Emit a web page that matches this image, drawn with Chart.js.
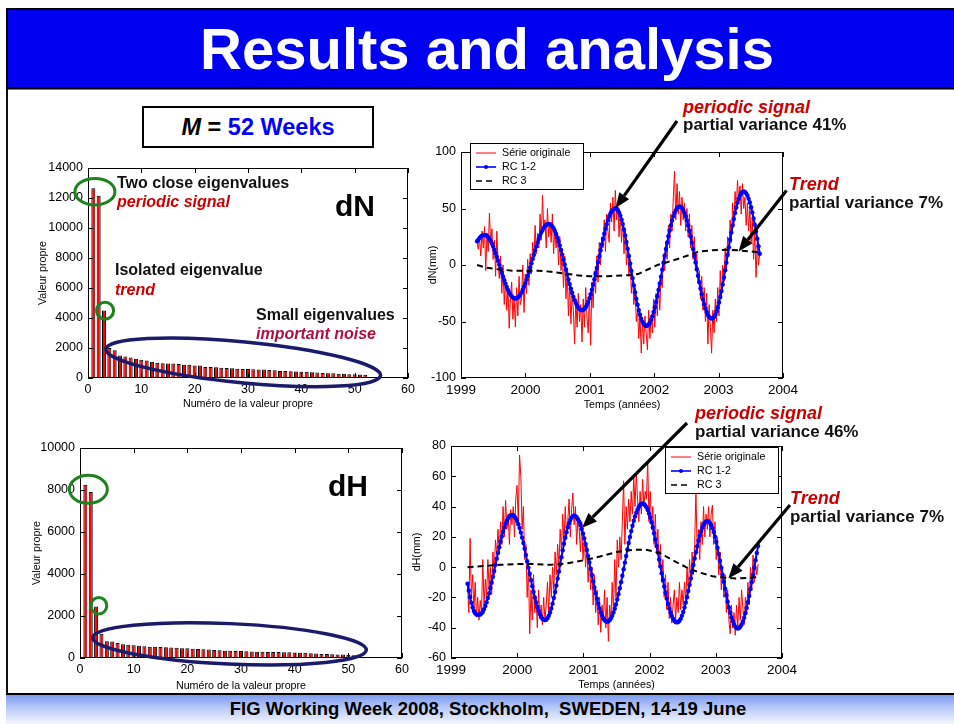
<!DOCTYPE html>
<html>
<head>
<meta charset="utf-8">
<script src="https://cdn.jsdelivr.net/npm/chart.js@4.4.0/dist/chart.umd.min.js"></script>
<style>
  html, body { margin: 0; padding: 0; }
  body { width: 954px; height: 724px; position: relative; overflow: hidden; background: #fff;
         font-family: "Liberation Sans", Arial, sans-serif; }
  .abs { position: absolute; white-space: nowrap; line-height: 1; }
  canvas { position: absolute; }
  #titlebar { left: 6px; top: 8px; width: 950px; height: 77px; background: #0000f0;
              border-top: 2px solid #000; border-bottom: 2px solid #000; border-left: 2px solid #000; }
  #title { left: 0; top: 20px; width: 974px; text-align: center; color: #fff; font-weight: bold; font-size: 58px; }
  #greyline { left: 8px; top: 89px; width: 950px; height: 1px; background: #777; }
  #leftline { left: 6px; top: 89px; width: 2px; height: 635px; background: #111; }
  #footer { left: 6px; top: 693px; width: 950px; height: 29px; border-top: 2px solid #000;
            background: linear-gradient(to bottom, #7d9bf0 0%, #b9caf7 45%, #f3f6fe 100%); }
  #foottext { left: 0; top: 700px; width: 976px; text-align: center; font-weight: bold; font-size: 18.5px; color: #000; }
  #mbox { left: 142px; top: 106px; width: 228px; height: 38px; border: 2px solid #000; }
  #mtext { left: 142px; top: 116px; width: 232px; text-align: center; font-weight: bold; font-size: 23.5px; }
  .note { font-weight: bold; font-size: 16px; color: #111; }
  .red { color: #cc0000; font-style: italic; }
  .big { font-weight: bold; font-size: 30px; color: #000; }
  .pv { font-weight: bold; font-size: 17px; color: #111; }
  .ps { font-weight: bold; font-style: italic; font-size: 18px; color: #cc0000; }
  #overlay { left: 0; top: 0; z-index: 5; pointer-events: none; }
</style>
</head>
<body>
<div id="titlebar" class="abs"></div>
<div id="title" class="abs">Results and analysis</div>
<div id="greyline" class="abs"></div>
<div id="leftline" class="abs"></div>
<div id="footer" class="abs"></div>
<div id="foottext" class="abs">FIG Working Week 2008, Stockholm,&nbsp; SWEDEN, 14-19 June</div>

<div id="mbox" class="abs"></div>
<div id="mtext" class="abs"><i>M</i> = <span style="color:#0000ff">52 Weeks</span></div>

<canvas id="dnBars"></canvas>
<canvas id="dnLine"></canvas>
<canvas id="dhBars"></canvas>
<canvas id="dhLine"></canvas>

<!-- notes on the eigenvalue charts -->
<div class="abs note" style="left:117px; top:175px">Two close eigenvalues</div>
<div class="abs note red" style="left:117px; top:194px">periodic signal</div>
<div class="abs note" style="left:115px; top:262px">Isolated eigenvalue</div>
<div class="abs note red" style="left:115px; top:282px">trend</div>
<div class="abs note" style="left:256px; top:307px">Small eigenvalues</div>
<div class="abs note red" style="left:256px; top:326px; color:#b01040">important noise</div>
<div class="abs big" style="left:335px; top:191px">dN</div>
<div class="abs big" style="left:328px; top:471px">dH</div>

<!-- notes on the time series -->
<div class="abs ps" style="left:683px; top:98px">periodic signal</div>
<div class="abs pv" style="left:683px; top:116px">partial variance 41%</div>
<div class="abs ps" style="left:789px; top:175px">Trend</div>
<div class="abs pv" style="left:789px; top:194px">partial variance 7%</div>
<div class="abs ps" style="left:695px; top:404px">periodic signal</div>
<div class="abs pv" style="left:695px; top:423px">partial variance 46%</div>
<div class="abs ps" style="left:790px; top:489px">Trend</div>
<div class="abs pv" style="left:790px; top:508px">partial variance 7%</div>

<canvas id="overlay" width="954" height="724"></canvas>

<script>
// eigenvalue spectra (M = 52)
const eigenRank = [1,2,3,4,5,6,7,8,9,10,11,12,13,14,15,16,17,18,19,20,21,22,23,24,25,26,
                   27,28,29,30,31,32,33,34,35,36,37,38,39,40,41,42,43,44,45,46,47,48,49,50,51,52];
const dnEigen = [12650,12150,4500,2000,1850,1500,1430,1370,1290,1220,
                 1170,1080,1010,990,970,960,930,890,880,840,
                 830,740,730,710,690,670,650,610,600,595,
                 585,575,560,540,510,470,465,450,440,420,
                 410,380,360,330,325,310,290,280,250,245,
                 240,220];
const dhEigen = [8250,7900,2450,1150,800,780,720,660,630,610,
                 580,560,540,530,520,510,500,490,470,460,
                 440,430,420,410,380,370,350,340,335,330,
                 320,315,300,295,290,285,280,275,270,265,
                 255,245,225,215,195,185,175,170,165,160,
                 130,110];

// weekly series, first week 1999.25
const weekStart = 1999.25;
const weekStep = 7 / 365.25;

const dnOrig = [20,14,24,8,30,15,34,-5,28,12,
  46,18,32,5,22,-10,30,2,-12,8,
  -25,0,-35,-12,-40,-20,-56,-30,-15,-48,
  -28,-55,-20,-45,-10,-35,-30,0,-42,-8,
  -25,5,-18,10,-8,20,5,35,10,28,
  15,45,22,62,30,40,15,50,25,38,
  20,45,10,32,15,28,0,25,-5,12,
  -20,8,-30,-5,-45,-15,-52,-25,-40,-70,
  -30,-55,-25,-50,-35,-68,-30,-55,-20,-45,
  -60,-25,-71,-15,-38,-5,-25,8,-15,20,
  0,25,15,40,12,45,30,20,55,38,
  60,30,66,40,55,25,45,20,40,10,
  30,0,15,-10,5,-25,-10,-35,-20,-50,
  -40,-65,-45,-78,-50,-70,-45,-60,-75,-40,
  -65,-45,-60,-30,-55,-25,-45,-15,-40,-10,
  -20,10,-5,20,5,35,15,45,30,60,
  83,40,72,45,65,35,60,40,55,30,
  50,25,45,15,35,5,25,-5,10,-15,
  -5,-30,-10,-40,-20,-50,-25,-70,-35,-55,
  -78,-40,-60,-30,-50,-20,-45,-5,-30,0,
  -15,15,-5,25,10,40,20,55,35,65,
  50,75,55,70,45,72,50,60,35,55,
  30,50,20,40,5,30,-11,20,0,10];
const dnRC12 = [21,22.5,24,25,26,26.4,26.6,26.4,25.7,24.6,
  23.1,21.2,19.0,16.4,13.6,10.5,7.2,3.8,0.3,-3.3,
  -6.8,-10.2,-13.5,-16.6,-19.4,-22.0,-24.2,-26.1,-27.6,-28.7,
  -29.4,-29.6,-29.4,-28.7,-27.6,-26.1,-24.2,-21.9,-19.2,-16.3,
  -13.1,-9.7,-6.1,-2.3,1.5,5.3,9.1,12.9,16.5,19.9,
  23.1,26.0,28.7,31.0,32.9,34.4,35.5,36.2,36.4,36.1,
  35.4,34.1,32.3,30.1,27.5,24.4,21.0,17.3,13.3,9.2,
  4.8,0.4,-4.0,-8.4,-12.8,-16.9,-20.9,-24.6,-28.0,-31.1,
  -33.7,-35.9,-37.7,-39.0,-39.7,-40,-39.7,-38.8,-37.3,-35.2,
  -32.6,-29.4,-25.8,-21.8,-17.4,-12.7,-7.8,-2.7,2.5,7.8,
  13.0,18.1,23.0,27.7,32.1,36.1,39.7,42.9,45.4,47.4,
  48.8,49.6,50.3,49.9,48.7,46.6,43.9,40.3,36.2,31.4,
  26.1,20.4,14.3,7.9,1.4,-5.1,-11.6,-18.0,-24.1,-29.8,
  -35.1,-39.9,-44.0,-47.6,-50.3,-52.4,-53.6,-54,-53.6,-52.6,
  -50.8,-48.4,-45.3,-41.6,-37.4,-32.7,-27.6,-22.1,-16.3,-10.3,
  -4.2,2.0,8.1,14.1,19.9,25.4,30.5,35.2,39.4,43.1,
  46.2,48.6,50.4,51.4,51.8,51.4,50.4,48.6,46.1,43.0,
  39.3,35.1,30.4,25.3,19.8,14.1,8.2,2.3,-3.7,-9.6,
  -15.3,-20.8,-25.9,-30.6,-34.8,-38.5,-41.6,-44.1,-45.9,-46.9,
  -47.3,-46.9,-45.7,-43.7,-40.9,-37.4,-33.2,-28.4,-23.1,-17.2,
  -11.1,-4.6,2.1,8.9,15.6,22.3,28.8,34.9,40.8,46.1,
  50.9,55.1,58.6,61.4,63.4,64.6,65,64.6,63.4,61.4,
  58.7,55.3,51.2,46.5,41.2,35.6,29.5,23.2,16.6,10];
const dnRC3Year = [1999.25,1999.4,1999.6,1999.8,2000.0,2000.2,2000.4,2000.6,2000.8,2001.0,2001.2,2001.4,
                   2001.6,2001.75,2001.9,2002.05,2002.2,2002.4,2002.55,2002.7,2002.9,2003.1,2003.3,2003.5,2003.65];
const dnRC3 = [0,-2.5,-4,-5,-5,-5,-6,-7.5,-9,-10,-10,-9.5,-9,-8,-4,0,2.5,6,9,12,13,13.5,13,12,11];

const dhOrig = [-12,-30,19,-20,-5,-28,-10,-33,-20,-35,
  -22,-30,5,-25,-8,-20,5,-15,0,-18,
  10,-5,18,8,25,10,30,15,40,20,
  44,25,35,15,38,28,40,20,45,54,
  30,74,60,25,40,5,15,-20,0,-44,
  -15,-35,-5,-30,-20,-40,-15,-34,-25,-38,
  -20,-35,-25,-10,-30,-5,-20,0,-15,10,
  -5,15,0,25,10,35,15,40,20,30,
  45,20,38,49,28,40,15,33,25,10,
  30,5,20,0,15,-10,5,-15,0,-25,
  -5,-30,-15,-38,-20,-43,-25,-35,-15,-40,
  -20,-49,-25,-35,-10,-30,5,-20,18,0,
  20,5,30,57,15,40,25,45,30,50,
  35,60,40,62,45,30,50,35,58,40,
  50,45,70,30,50,25,40,15,35,10,
  25,0,15,-10,5,-20,-5,-28,-10,-34,
  -20,-37,-25,-15,-35,-20,-30,-10,-28,-15,
  -25,-10,-22,0,-15,5,-10,10,-5,15,
  50,10,25,5,30,15,40,20,35,25,
  40,20,35,41,15,30,5,20,-5,10,
  -15,0,-20,-5,-30,-15,-35,-44,-25,-40,
  -30,-45,-25,-40,-20,-35,-15,-27,-38,-20,
  -30,-10,-25,0,-15,8,-10,2,-5,2];
const dhRC12 = [-11,-15.5,-19.8,-23.5,-26.6,-28.9,-30.4,-31.2,-31.4,-31.5,
  -31.3,-30.5,-29.4,-27.7,-25.7,-23.2,-20.4,-17.3,-13.8,-10.2,
  -6.4,-2.5,1.5,5.5,9.4,13.2,16.8,20.3,23.4,26.2,
  28.7,30.7,32.4,33.5,34.3,34.5,34.3,33.5,32.2,30.5,
  28.4,25.8,22.8,19.5,15.9,12.1,8.1,3.9,-0.3,-4.4,
  -8.6,-12.6,-16.4,-20.0,-23.3,-26.3,-28.9,-31.0,-32.7,-34.0,
  -34.8,-35,-34.7,-33.7,-32.1,-30.0,-27.3,-24.1,-20.4,-16.4,
  -12.1,-7.5,-2.9,1.9,6.5,11.1,15.4,19.4,23.1,26.3,
  29.0,31.1,32.7,33.7,34,33.7,33.0,31.7,30.0,27.8,
  25.2,22.2,18.9,15.3,11.4,7.4,3.2,-1,-5.2,-9.4,
  -13.4,-17.3,-20.9,-24.2,-27.2,-29.8,-32.0,-33.7,-35.0,-35.7,
  -36,-35.8,-35.0,-33.8,-32.1,-30.0,-27.5,-24.6,-21.3,-17.8,
  -13.9,-9.9,-5.7,-1.4,3,7.4,11.7,15.9,19.9,23.8,
  27.3,30.6,33.5,36.0,38.1,39.8,41.0,41.8,42,41.7,
  40.9,39.6,37.8,35.5,32.8,29.7,26.2,22.4,18.3,14.0,
  9.6,5.0,0.5,-4.1,-8.5,-12.8,-16.9,-20.7,-24.2,-27.3,
  -30.0,-32.3,-34.1,-35.4,-36.2,-36.5,-36.2,-35.4,-34.0,-32.0,
  -29.6,-26.7,-23.4,-19.8,-15.8,-11.7,-7.4,-3,1.4,5.7,
  9.8,13.8,17.4,20.7,23.6,26.0,28.0,29.4,30.2,30.5,
  30.2,29.3,27.8,25.7,23.2,20.1,16.6,12.8,8.6,4.2,
  -0.4,-5,-9.6,-14.2,-18.6,-22.8,-26.6,-30.1,-33.2,-35.7,
  -37.8,-39.3,-40.2,-40.5,-40.2,-39.3,-37.9,-35.9,-33.4,-30.4,
  -26.9,-23.1,-19.0,-14.5,-9.9,-5.1,-0.3,4.6,9.4,14.0];
const dhRC3Year = [1999.25,1999.5,1999.75,2000.0,2000.25,2000.5,2000.75,2001.0,2001.25,2001.5,2001.75,
                   2001.95,2002.15,2002.35,2002.55,2002.75,2002.95,2003.15,2003.3,2003.5,2003.65];
const dhRC3 = [0,0.8,1.5,2,2,1.5,2.5,4.5,7,10,11.5,11.5,9.5,4.5,0,-3.5,-6,-7,-7.5,-7,-6.5];

// axis ranges: [min, max, step]
const eigenX = [0, 60, 10];
const dnEigenY = [0, 14000, 2000];
const dhEigenY = [0, 10000, 2000];
const yearX = [1999, 2004, 1];
const dnY = [-100, 100, 50];
const dhY = [-60, 80, 20];

const FONT = '"Liberation Sans", Arial, sans-serif';
const ML = 60, MT = 20, MR = 24;
const TITLE_FS = 10.7, TITLE_LH = TITLE_FS * 1.2;

// matlab-like box with inward ticks, plus extras drawn on top
function framePlugin(extra) {
  return {
    id: 'frame',
    afterDatasetsDraw(chart) {
      const { ctx, chartArea: a, scales } = chart;
      ctx.save();
      ctx.strokeStyle = '#000';
      ctx.lineWidth = 1;
      ctx.strokeRect(a.left + 0.5, a.top + 0.5, a.right - a.left - 1, a.bottom - a.top - 1);
      ctx.beginPath();
      scales.x.ticks.forEach(t => {
        const px = Math.round(scales.x.getPixelForValue(t.value)) + 0.5;
        ctx.moveTo(px, a.bottom); ctx.lineTo(px, a.bottom - 5);
        ctx.moveTo(px, a.top); ctx.lineTo(px, a.top + 5);
      });
      scales.y.ticks.forEach(t => {
        const py = Math.round(scales.y.getPixelForValue(t.value)) + 0.5;
        ctx.moveTo(a.left, py); ctx.lineTo(a.left + 5, py);
        ctx.moveTo(a.right, py); ctx.lineTo(a.right - 5, py);
      });
      ctx.stroke();
      ctx.restore();
      if (extra) extra(chart);
    }
  };
}

function drawEllipses(chart, list) {
  const ctx = chart.ctx, sx = chart.scales.x, sy = chart.scales.y;
  list.forEach(e => {
    ctx.save();
    ctx.beginPath();
    ctx.ellipse(sx.getPixelForValue(e.x), sy.getPixelForValue(e.y), e.rx, e.ry, e.rot * Math.PI / 180, 0, Math.PI * 2);
    ctx.lineWidth = e.w;
    ctx.strokeStyle = e.color;
    ctx.stroke();
    ctx.restore();
  });
}

function drawLegend(chart, pos) {
  const ctx = chart.ctx, a = chart.chartArea;
  const w = 114, h = 47;
  const bx = Math.round(pos.fromRight ? a.right - pos.dx - w : a.left + pos.dx);
  const by = Math.round(a.top + pos.dy);
  ctx.save();
  ctx.fillStyle = '#fff';
  ctx.fillRect(bx, by, w, h);
  ctx.strokeStyle = '#000';
  ctx.lineWidth = 1;
  ctx.strokeRect(bx + 0.5, by + 0.5, w - 1, h - 1);
  ctx.font = TITLE_FS + 'px ' + FONT;
  ctx.textBaseline = 'middle';
  chart.data.datasets.forEach((ds, i) => {
    const ry = by + 10 + i * 14;
    ctx.beginPath();
    ctx.setLineDash(ds.borderDash || []);
    ctx.strokeStyle = ds.borderColor;
    ctx.lineWidth = Math.min(ds.borderWidth, 1.6);
    ctx.moveTo(bx + 6, ry); ctx.lineTo(bx + 26, ry);
    ctx.stroke();
    ctx.setLineDash([]);
    if (ds.pointRadius) {
      ctx.fillStyle = ds.borderColor;
      ctx.beginPath(); ctx.arc(bx + 16, ry, 2, 0, Math.PI * 2); ctx.fill();
    }
    ctx.fillStyle = '#000';
    ctx.fillText(ds.label, bx + 32, ry);
  });
  ctx.restore();
}

function buildChart(id, plot, cfg) {
  const cv = document.getElementById(id);
  const mb = Math.round(cfg.xTitleY - plot.b + TITLE_LH / 2);
  const left = plot.l - ML, top = plot.t - MT;
  cv.width = plot.r - plot.l + ML + MR;
  cv.height = plot.b - plot.t + MT + mb;
  cv.style.left = left + 'px';
  cv.style.top = top + 'px';
  const titleFont = { family: FONT, size: TITLE_FS };
  return new Chart(cv, {
    type: cfg.type,
    data: cfg.data,
    options: {
      responsive: false,
      animation: false,
      events: [],
      devicePixelRatio: 1,
      layout: { padding: { left: 0, top: MT, right: MR, bottom: 0 } },
      plugins: { legend: { display: false }, tooltip: { enabled: false } },
      scales: {
        x: {
          type: 'linear', offset: false, min: cfg.xr[0], max: cfg.xr[1],
          grid: { display: false, drawTicks: false, tickLength: 0 }, border: { display: false },
          ticks: { stepSize: cfg.xr[2], font: { family: FONT, size: cfg.xFs }, color: '#000', padding: 4,
                   maxRotation: 0, autoSkip: false, callback: v => String(v) },
          title: { display: true, text: cfg.xTitle, color: '#000', font: titleFont, padding: { top: 0, bottom: 0 } },
          afterFit: s => { s.height = mb; }
        },
        y: {
          type: 'linear', min: cfg.yr[0], max: cfg.yr[1],
          grid: { display: false, drawTicks: false, tickLength: 0 }, border: { display: false },
          ticks: { stepSize: cfg.yr[2], font: { family: FONT, size: 12.5 }, color: '#000', padding: 5,
                   autoSkip: false, callback: v => String(v) },
          title: { display: true, text: cfg.yTitle, color: '#000', font: titleFont,
                   padding: { top: cfg.yTitleX - left - TITLE_LH / 2, bottom: 0 } },
          afterFit: s => { s.width = ML; }
        }
      }
    },
    plugins: [framePlugin(cfg.extra)]
  });
}

function barData(values) {
  return {
    datasets: [{
      data: values.map((v, i) => ({ x: eigenRank[i], y: v })),
      backgroundColor: '#ff0000',
      borderColor: '#000',
      borderWidth: 1,
      barPercentage: 0.75,
      categoryPercentage: 1
    }]
  };
}

function weekly(values) {
  return values.map((v, i) => ({ x: weekStart + i * weekStep, y: v }));
}

function lineData(orig, rc12, rc3Year, rc3) {
  return {
    datasets: [
      { label: 'Série originale', data: weekly(orig), borderColor: '#ff0000', borderWidth: 1,
        pointRadius: 0, order: 3 },
      { label: 'RC 1-2', data: weekly(rc12), borderColor: '#0000ff', borderWidth: 2,
        pointRadius: 2.2, pointBackgroundColor: '#0000ff', pointBorderWidth: 0, order: 2 },
      { label: 'RC 3', data: rc3.map((v, i) => ({ x: rc3Year[i], y: v })), borderColor: '#000',
        borderWidth: 2, borderDash: [6, 4], pointRadius: 0, order: 1 }
    ]
  };
}

const GREEN = '#1e821e', NAVY = '#1b1b6e';

const dnBarChart = buildChart('dnBars', { l: 88, r: 408, t: 168, b: 378 }, {
  type: 'bar', data: barData(dnEigen), xr: eigenX, yr: dnEigenY, xFs: 12.5,
  xTitle: 'Numéro de la valeur propre', yTitle: 'Valeur propre', xTitleY: 403.3, yTitleX: 43.3,
  extra: c => drawEllipses(c, [
    { x: 1.3, y: 12420, rx: 20, ry: 13.3, rot: 0, w: 3, color: GREEN },
    { x: 3.2, y: 4490, rx: 8.5, ry: 8.5, rot: 0, w: 3, color: GREEN },
    { x: 29.1, y: 1047, rx: 138, ry: 20.5, rot: 5.5, w: 3.5, color: NAVY }
  ])
});

const dhBarChart = buildChart('dhBars', { l: 80, r: 402, t: 448, b: 658 }, {
  type: 'bar', data: barData(dhEigen), xr: eigenX, yr: dhEigenY, xFs: 12.5,
  xTitle: 'Numéro de la valeur propre', yTitle: 'Valeur propre', xTitleY: 686, yTitleX: 36.7,
  extra: c => drawEllipses(c, [
    { x: 1.55, y: 8030, rx: 19, ry: 14, rot: 0, w: 3, color: GREEN },
    { x: 3.5, y: 2490, rx: 8, ry: 8.3, rot: 0, w: 3, color: GREEN },
    { x: 27.85, y: 676, rx: 137, ry: 20.2, rot: 2.6, w: 3.5, color: NAVY }
  ])
});

const dnLineChart = buildChart('dnLine', { l: 461, r: 783, t: 152, b: 378 }, {
  type: 'line', data: lineData(dnOrig, dnRC12, dnRC3Year, dnRC3), xr: yearX, yr: dnY, xFs: 13.5,
  xTitle: 'Temps (années)', yTitle: 'dN(mm)', xTitleY: 405, yTitleX: 433.3,
  extra: c => drawLegend(c, { fromRight: false, dx: 9, dy: -9 })
});

const dhLineChart = buildChart('dhLine', { l: 451, r: 782, t: 446, b: 658 }, {
  type: 'line', data: lineData(dhOrig, dhRC12, dhRC3Year, dhRC3), xr: yearX, yr: dhY, xFs: 13.5,
  xTitle: 'Temps (années)', yTitle: 'dH(mm)', xTitleY: 685, yTitleX: 417,
  extra: c => drawLegend(c, { fromRight: true, dx: 3, dy: 1 })
});

// arrows from the notes to the curves
function pagePoint(chart, x, y) {
  const cv = chart.canvas;
  return { x: cv.offsetLeft + chart.scales.x.getPixelForValue(x), y: cv.offsetTop + chart.scales.y.getPixelForValue(y) };
}

function arrow(ctx, x0, y0, tip) {
  const ang = Math.atan2(tip.y - y0, tip.x - x0), head = 15, half = 6;
  const bx = tip.x - head * Math.cos(ang), by = tip.y - head * Math.sin(ang);
  ctx.beginPath();
  ctx.moveTo(x0, y0); ctx.lineTo(bx, by);
  ctx.lineWidth = 3.2; ctx.strokeStyle = '#000'; ctx.stroke();
  ctx.beginPath();
  ctx.moveTo(tip.x, tip.y);
  ctx.lineTo(bx - half * Math.sin(ang), by + half * Math.cos(ang));
  ctx.lineTo(bx + half * Math.sin(ang), by - half * Math.cos(ang));
  ctx.closePath();
  ctx.fillStyle = '#000'; ctx.fill();
}

const octx = document.getElementById('overlay').getContext('2d');
arrow(octx, 677, 121, pagePoint(dnLineChart, 2001.40, 50.5));
arrow(octx, 786.5, 190.5, pagePoint(dnLineChart, 2003.31, 12));
arrow(octx, 687, 423, pagePoint(dhLineChart, 2000.98, 26));
arrow(octx, 790, 505, pagePoint(dhLineChart, 2003.19, -7.5));
</script>
</body>
</html>
